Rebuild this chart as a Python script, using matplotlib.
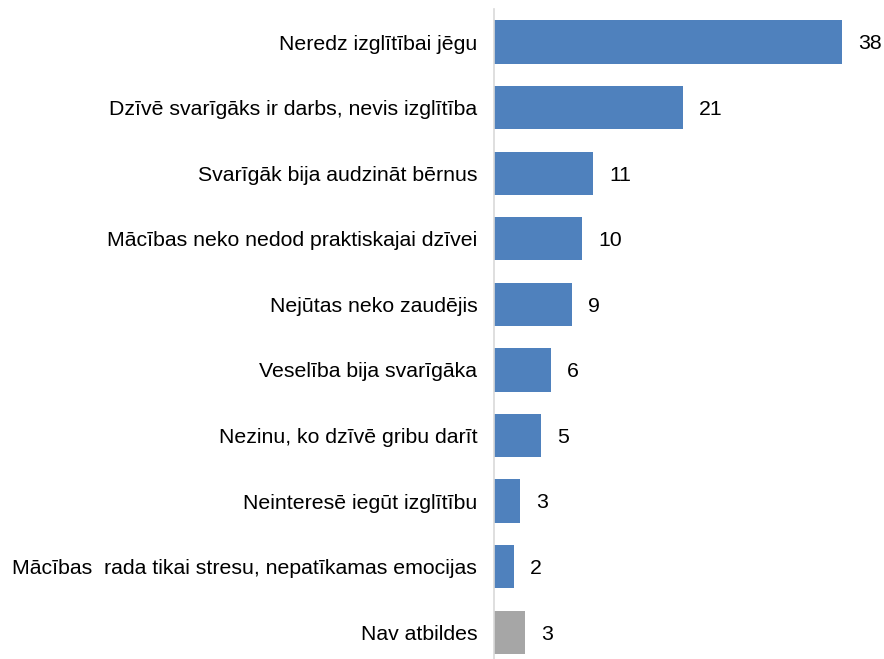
import matplotlib
matplotlib.use('Agg')
import matplotlib.pyplot as plt

# Dati
kategorijas = [
    "Neredz izglītībai jēgu",
    "Dzīvē svarīgāks ir darbs, nevis izglītība",
    "Svarīgāk bija audzināt bērnus",
    "Mācības neko nedod praktiskajai dzīvei",
    "Nejūtas neko zaudējis",
    "Veselība bija svarīgāka",
    "Nezinu, ko dzīvē gribu darīt",
    "Neinteresē iegūt izglītību",
    "Mācības  rada tikai stresu, nepatīkamas emocijas",
    "Nav atbildes",
]
# stabiņu garums, kā nolasīts no attēla
vertibas = [38, 20.6, 10.8, 9.6, 8.5, 6.2, 5.1, 2.8, 2.2, 3.4]
# uzraksti pie stabiņiem
etiketes = ["38", "21", "11", "10", "9", "6", "5", "3", "2", "3"]
krasas = ['#4F81BD'] * 9 + ['#A6A6A6']

plt.rcParams['font.family'] = ['Liberation Sans', 'DejaVu Sans']

fig = plt.figure(figsize=(8.84, 6.59), dpi=100)
ax = fig.add_axes([494 / 884, -0.009, 385 / 884, 0.995])

y = range(len(kategorijas))
ax.barh(y, vertibas, height=0.66, color=krasas)

ax.set_ylim(len(kategorijas) - 0.5, -0.5)
ax.set_xlim(0, 42)
ax.set_yticks(list(y))
ax.set_yticklabels(kategorijas, fontsize=15.3)
ax.tick_params(axis='y', length=0, pad=12)
ax.set_xticks([])

for i, (v, t) in enumerate(zip(vertibas, etiketes)):
    ax.text(v + 1.75, i + 0.03, t, va='center', ha='left', fontsize=15.3)

for s in ['top', 'right', 'bottom']:
    ax.spines[s].set_visible(False)
ax.spines['left'].set_color('#D9D9D9')
ax.spines['left'].set_linewidth(1.2)

plt.savefig('out.png', dpi=100)
